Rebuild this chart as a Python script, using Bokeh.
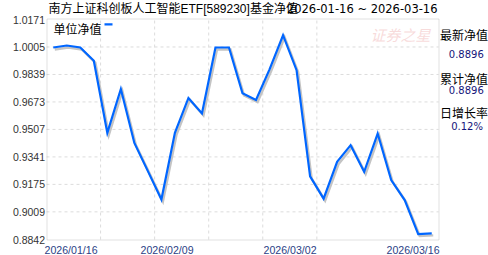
from bokeh.plotting import figure
from bokeh.models import Label, Range1d, BoxAnnotation
from bokeh.embed import file_html
from bokeh.resources import INLINE

# ---------------- data ----------------
title_text = "南方上证科创板人工智能ETF[589230]基金净值"
date_range_text = "2026-01-16 ~ 2026-03-16"
series_name = "单位净值"
nav = [1.0002, 1.0014, 1.0002, 0.9922, 0.9486, 0.9751, 0.9425, 0.9255, 0.9084,
       0.9486, 0.9697, 0.9604, 1.0002, 1.0002, 0.9725, 0.9685, 0.9870, 1.0076,
       0.9865, 0.9223, 0.9089, 0.9311, 0.9412, 0.9251, 0.9482, 0.9201, 0.9080,
       0.8875, 0.8879]
x_tick_labels = ["2026/01/16", "2026/02/09", "2026/03/02", "2026/03/16"]
y_ticks = [0.8842, 0.9009, 0.9175, 0.9341, 0.9507, 0.9673, 0.9839, 1.0005, 1.0171]
x_grid_at = [3.5, 7.5, 11.5, 15.5, 19.5]
info_labels = ["最新净值", "累计净值", "日增长率"]
info_values = ["0.8896", "0.8896", "0.12%"]
watermark = "证券之星"

# ---------------- layout ----------------
W, H = 488, 255
PL, PR, PT, PB = 46, 438, 19, 239          # plot-area pixel box
n = len(nav)
xs = list(range(n))
A0, A1 = -0.5, n - 0.5                      # data x at plot-area edges
B0, B1 = y_ticks[0], y_ticks[-1]            # data y at plot-area edges
kx = (A1 - A0) / (PR - PL)
ky = (B1 - B0) / (PB - PT)


def xd(px):
    return A0 + (px - PL) * kx


def yd(py):
    return B1 - (py - PT) * ky


CJK = "Noto Sans CJK SC"
MIX = "Liberation Sans, Noto Sans CJK SC"

p = figure(width=W, height=H, output_backend="svg", toolbar_location=None,
           x_range=Range1d(xd(0), xd(W)), y_range=Range1d(yd(H), yd(0)),
           min_border=0, background_fill_color="white",
           border_fill_color="white")
p.outline_line_color = None
p.axis.visible = False
p.grid.visible = False

# grid (dashed)
p.segment(x0=[A0] * (len(y_ticks) - 2), x1=[A1] * (len(y_ticks) - 2),
          y0=y_ticks[1:-1], y1=y_ticks[1:-1], line_color="#dcdcdc",
          line_dash="3 3", line_width=1)
p.segment(x0=x_grid_at, x1=x_grid_at, y0=[B0] * len(x_grid_at),
          y1=[B1] * len(x_grid_at), line_color="#dcdcdc", line_dash="3 3",
          line_width=1)

# plot-area border
p.add_layout(BoxAnnotation(left=xd(PL + 0.5), right=xd(PR + 0.5),
                           top=yd(PT - 0.5), bottom=yd(PB + 0.5),
                           fill_color=None, line_color="#9a9a9a", line_width=1))

# shadow + line
sdx = 1.5 * kx
sdy = 2.0 * ky
p.line([x + sdx for x in xs], [v - sdy for v in nav], line_color="#c4c4c4",
       line_width=2.5, line_join="miter")
p.line(xs, nav, line_color="#0066ff", line_width=2.2, line_join="miter")

# watermark
p.add_layout(Label(x=xd(400), y=yd(33.5), text=watermark, text_align="center",
                   text_baseline="middle", text_font=CJK, text_font_size="15px",
                   text_font_style="italic", text_color="#f6d2d2", text_alpha=0.8))

# title + date range
p.add_layout(Label(x=xd(437), y=yd(8.5), text=date_range_text, text_align="right",
                   text_baseline="middle", text_font="DejaVu Sans",
                   text_font_size="11.5px", text_color="#000000"))
p.add_layout(Label(x=xd(48), y=yd(8.5), text=title_text, text_align="left",
                   text_baseline="middle", text_font=MIX, text_font_size="12px",
                   text_color="#000000"))

# legend
p.add_layout(Label(x=xd(53), y=yd(28), text=series_name, text_align="left",
                   text_baseline="middle", text_font=CJK, text_font_size="12px",
                   text_color="#000000"))
p.add_layout(BoxAnnotation(left=xd(104), right=xd(112), top=yd(22.7), bottom=yd(24.9),
                           fill_color="#0066ff", fill_alpha=1.0, line_color=None))

# y tick labels
for v in y_ticks:
    p.add_layout(Label(x=xd(44.5), y=v, text=f"{v:.4f}", text_align="right",
                       text_baseline="middle", text_font="Liberation Sans",
                       text_font_size="10.5px", text_color="#333333"))

# right info panel
label_y = [34, 77.5, 112]
value_y = [53, 89.7, 126.3]
value_x = [448.3, 448.3, 450.7]
for t, yy in zip(info_labels, label_y):
    p.add_layout(Label(x=xd(439.5), y=yd(yy), text=t, text_align="left",
                       text_baseline="middle", text_font=CJK, text_font_size="12px",
                       text_color="#000000"))
for t, yy, xx in zip(info_values, value_y, value_x):
    p.add_layout(Label(x=xd(xx), y=yd(yy), text=t, text_align="left",
                       text_baseline="middle", text_font="DejaVu Sans",
                       text_font_size="10px", text_color="#14147a"))

# x tick labels
x_label_left = [44, 140, 263, 386]
for t, xx in zip(x_tick_labels, x_label_left):
    p.add_layout(Label(x=xd(xx), y=yd(249.6), text=t, text_align="left",
                       text_baseline="middle", text_font="Liberation Sans",
                       text_font_size="10.6px", text_color="#2b3f86"))

open("out.html", "w").write(file_html(p, INLINE))
